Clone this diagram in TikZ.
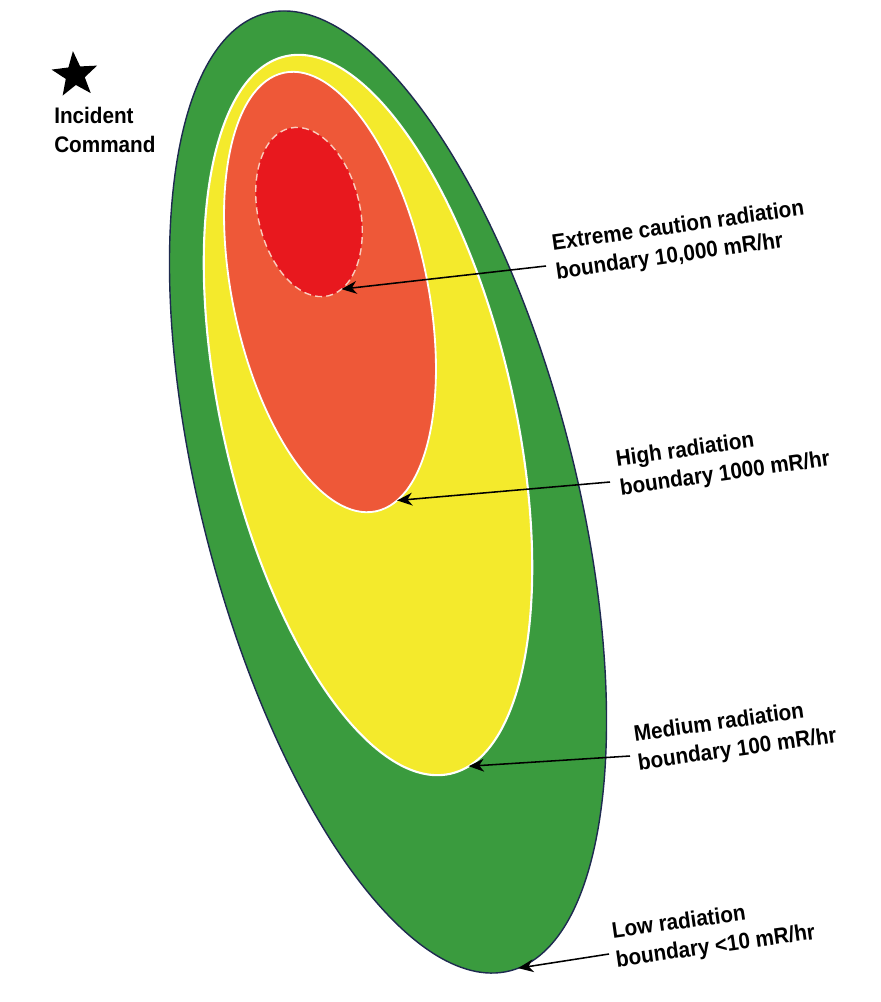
\documentclass[tikz,border=0pt]{standalone}
\usepackage{fontspec}
\newfontfamily\lblfont{Liberation Sans}[FakeStretch=0.92]
\usepackage{tikz}
\usetikzlibrary{arrows.meta,shapes.geometric}
\definecolor{zgreen}{RGB}{58,155,62}
\definecolor{zyellow}{RGB}{244,234,44}
\definecolor{zorange}{RGB}{238,88,56}
\definecolor{zred}{RGB}{232,24,30}
\definecolor{zedge}{RGB}{30,42,80}
\definecolor{zdash}{RGB}{250,205,190}

\begin{document}
\begin{tikzpicture}[
    x=0.025cm, y=0.025cm,
    >={Stealth[length=3.8mm,width=3.2mm,inset=1.2mm]},
    zone/.style={ellipse, inner sep=0pt, outer sep=0pt},
    lbl/.style={font={\lblfont\bfseries\fontsize{16}{20.5}\selectfont}, align=left,
                inner sep=0pt, anchor=west, rotate=8},
    ptr/.style={->, line width=1.1pt},
  ]
    \fill[white] (0,0) rectangle (881,-1002);
    \useasboundingbox (0,0) rectangle (881,-1002);

    \node[zone, fill=zgreen, draw=zedge, line width=1pt, minimum width=9.35cm,
          minimum height=24.7cm, rotate=14.3] (green) at (388,-492) {};
    \node[zone, fill=zyellow, draw=white, line width=1.5pt, minimum width=7.275cm,
          minimum height=18.4cm, rotate=13] (yellow) at (368,-415) {};
    \node[zone, fill=zorange, draw=white, line width=1.3pt, minimum width=4.875cm,
          minimum height=11.2cm, rotate=11.84] (orange) at (330,-292) {};
    \node[zone, fill=zred, draw=zdash, line width=1pt, dash pattern=on 5pt off 3pt,
          minimum width=2.55cm, minimum height=4.3cm, rotate=12.85] (red) at (309,-212) {};

    \node[star, star points=5, star point ratio=2.4, fill=black, inner sep=0pt,
          minimum size=1.2cm, rotate=5] (ic) at (75,-75) {};
    \node[lbl, rotate=-8, anchor=north west] (icl) at (54,-107) {Incident\\Command};

    \node[lbl] (ext)  at (554,-259) {Extreme caution radiation\\boundary 10,000 mR/hr};
    \node[lbl] (high) at (618,-475) {High radiation\\boundary 1000 mR/hr};
    \node[lbl] (med)  at (636,-750) {Medium radiation\\boundary 100 mR/hr};
    \node[lbl] (low)  at (614,-947) {Low radiation\\boundary <10 mR/hr};

    \draw[ptr] ([shift={(-8,-7)}]ext.west) -- (red.-80);
    \draw[ptr] ([shift={(-8,-7)}]high.west) -- (orange.-84);
    \draw[ptr] ([shift={(-6,-6)}]med.west) -- (yellow.-87);
    \draw[ptr] ([shift={(-5,-7)}]low.west) -- (green.-89);
  \end{tikzpicture}
\end{document}
